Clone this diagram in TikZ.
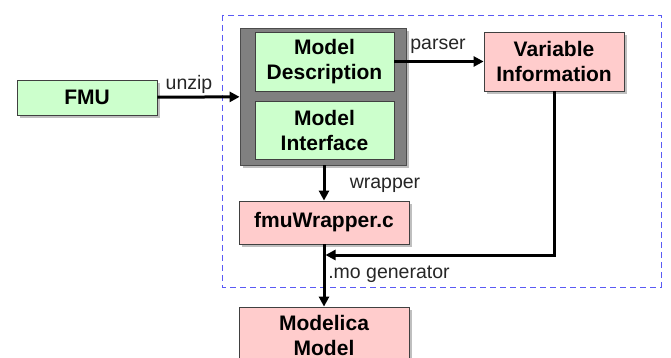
\documentclass[tikz,border=0pt]{standalone}
\usepackage{fontspec}
\setmainfont{Liberation Sans}
\usetikzlibrary{arrows.meta,positioning,shadows,calc}
\definecolor{mint}{RGB}{204,255,204}
\definecolor{rose}{RGB}{255,204,204}
\definecolor{slate}{RGB}{128,128,128}
\definecolor{frame}{RGB}{90,90,245}
\tikzset{
  >={Triangle[length=10pt,width=10pt]},
  box/.style={draw=black!75,fill=#1,line width=0.8pt,align=center,
    font=\fontsize{21}{25}\selectfont\bfseries,
    drop shadow={shadow xshift=3pt,shadow yshift=-3pt,opacity=0.5}},
  box/.default=mint,
  flow/.style={->,line width=3pt,draw=black},
  tag/.style={font=\fontsize{19.5}{22}\selectfont,text=black!85},
}
\begin{document}
\begin{tikzpicture}[x=1pt,y=-1pt]
  \useasboundingbox (0,0) rectangle (671,358);
  % dashed frame round the importer
  \draw[frame,dash pattern=on 6pt off 4pt,line width=0.8pt] (222,15) rectangle (661,287);
  % nodes
  \node[box=mint,minimum width=140pt,minimum height=35pt] (fmu) at (87,97.5) {FMU};
  \node[draw=black!70,fill=slate,line width=0.8pt,minimum width=166pt,minimum height=137pt,
    drop shadow={shadow xshift=3pt,shadow yshift=-3pt,opacity=0.5}] (zip) at (323,96.5) {};
  \node[box=mint,minimum width=139pt,minimum height=59pt] (desc) at (324.5,61.5) {Model\\Description};
  \node[box=mint,minimum width=139pt,minimum height=58pt] (intf) at (324.5,130) {Model\\Interface};
  \node[box=rose,minimum width=140pt,minimum height=59pt] (var) at (554,61.5) {Variable\\Information};
  \node[box=rose,minimum width=170pt,minimum height=43pt] (wrap) at (324,222.5) {fmuWrapper.c};
  \node[box=rose,minimum width=170pt,minimum height=56pt] (mo) at (324,335) {Modelica\\Model};
  \coordinate (join) at (wrap.south |- 0,255);
  % connectors
  \draw[flow] (fmu) -- (zip);
  \draw[flow] (desc) -- (var);
  \draw[flow] (zip.south -| wrap.north) -- (wrap);
  \draw[flow] (var.south) |- ($(join)+(1.5,0)$);
  \draw[flow] (wrap) -- (mo);
  % labels
  \node[tag] (unzipt) at (189,84) {unzip};
  \node[tag] (parsert) at (438,46) {parser};
  \node[tag] (wrapt) at (385,185) {wrapper};
  \node[tag] (mot) at (389,274) {.mo generator};
\end{tikzpicture}
\end{document}
